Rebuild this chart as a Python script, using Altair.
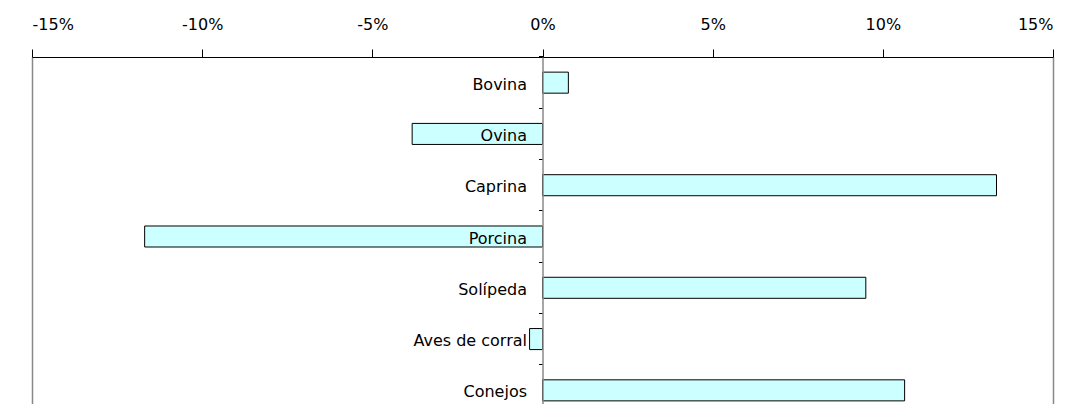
import altair as alt
import pandas as pd

categories = ["Bovina", "Ovina", "Caprina", "Porcina", "Solípeda", "Aves de corral", "Conejos"]
values = [0.0076, -0.0383, 0.1334, -0.1169, 0.0950, -0.0038, 0.1064]
x_ticks = [-0.15, -0.10, -0.05, 0.0, 0.05, 0.10, 0.15]

df = pd.DataFrame({"cat": categories, "val": values})

FONT = "DejaVu Sans"

bars = alt.Chart(df).mark_bar(
    fill="#CCFFFF", stroke="#000000", strokeWidth=1
).encode(
    x=alt.X(
        "val:Q",
        scale=alt.Scale(domain=[-0.15, 0.15], nice=False),
        axis=alt.Axis(
            orient="top", values=x_ticks, title=None,
            labelExpr="(datum.value < -0.0001 ? '-' : '') + format(abs(datum.value), '.0%')",
            domainColor="#000000", tickColor="#000000", tickSize=8,
            labelPadding=17, labelFont=FONT, labelFontSize=16, labelColor="#000000",
            grid=True, gridColor="#888888", gridWidth=1.5,
            gridOpacity={"condition": {"test": "abs(datum.value) > 0.149", "value": 1}, "value": 0},
        ),
    ),
    y=alt.Y(
        "cat:N", sort=categories,
        scale=alt.Scale(range=[0, 359], paddingInner=0.59, paddingOuter=0.295),
        axis=alt.Axis(
            title=None, orient="left", offset=-510.5, bandPosition=-0.72, zindex=1,
            labelOffset=2, labelPadding=12, labelFont=FONT, labelFontSize=16,
            labelColor="#000000", tickColor="#000000", tickSize=4,
            domainColor="#888888", domainWidth=1.5, grid=False,
        ),
    ),
)

chart = bars.properties(
    width=1021, height=347,
    autosize=alt.AutoSizeParams(type="none"),
    padding={"left": 24, "top": 49, "right": 12, "bottom": 0},
).configure_view(stroke=None)

chart.save("out.html", embed_options={"renderer": "svg", "actions": False})
